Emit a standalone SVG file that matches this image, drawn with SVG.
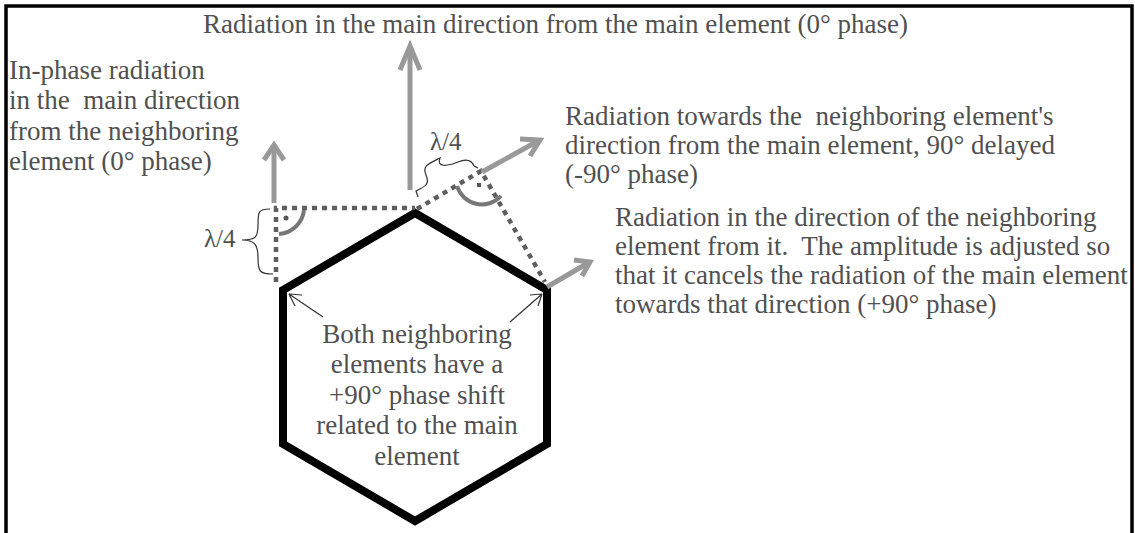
<svg xmlns="http://www.w3.org/2000/svg" width="1135" height="533" viewBox="0 0 1135 533">
<style>
text{font-family:"Liberation Serif","Times New Roman",serif;font-size:27px;fill:#505050;white-space:pre}
.lam{font-size:25px}
.arr{stroke:#999;stroke-width:5;fill:none;stroke-linecap:butt}
.dot{stroke:#5e5e5e;stroke-width:4.5;stroke-dasharray:5 5;fill:none}
.ang{stroke:#777;stroke-width:4;fill:none}
.thin{stroke:#333;stroke-width:1.2;fill:none}
</style>
<rect x="0" y="0" width="1135" height="533" fill="#fff"/>
<path d="M6,540 V6 H1132 V540" fill="none" stroke="#000" stroke-width="3.5"/>
<g id="hexagon">
<polygon points="415,213 547,290 547,444 415,521 283,444 283,290" fill="none" stroke="#000" stroke-width="8" stroke-linejoin="miter"/>
</g>
<g id="connectors">
<path class="dot" d="M276,282 V208 H415"/>
<path class="dot" d="M417,209 L481,171 L545,282"/>
<path class="ang" d="M304,210 A27,27 0 0 1 279,234"/>
<circle cx="286" cy="218" r="2.5" fill="#555"/>
<path class="ang" d="M457,186 A26,26 0 0 0 501,196"/>
<rect x="477" y="183" width="4" height="4" fill="#555"/>
<path class="arr" d="M410,190 V46"/>
<path class="arr" d="M400,70 L410,46 L420,70" stroke-width="6"/>
<path class="arr" d="M274,203 V145"/>
<path class="arr" d="M264,160 L274,145 L284,160" stroke-width="3"/>
<path class="arr" d="M482,172 L538,141"/>
<path class="arr" d="M520,139 L540,140 L530,156" stroke-width="6"/>
<path class="arr" d="M547,287 L588,263"/>
<path class="arr" d="M574,260 L590,262 L582,276" stroke-width="6"/>
<path class="thin" d="M270,209 C258,209 258,212 258,225 C258,238 255,240 242,240 C255,240 258,245 258,258 C258,272 260,274 273,274"/>
<path class="thin" d="M418,197 L416,191 C426,186 430,184 426,175 C422,166 428,164 440,158 C436,168 448,166 458,162 C468,158 472,161 474,166 L478,168"/>
<path class="thin" d="M323,317 L289,294 M289,294 L302,295 M289,294 L295,306"/>
<path class="thin" d="M510,322 L542,294 M542,294 L530,295 M542,294 L538,306"/>
</g>
<g id="labels" xml:space="preserve">
<text x="203" y="33">Radiation in the main direction from the main element (0° phase)</text>
<text x="9" y="79">In-phase radiation</text>
<text x="9" y="109">in the  main direction</text>
<text x="9" y="140">from the neighboring</text>
<text x="9" y="170">element (0° phase)</text>
<text x="565" y="125">Radiation towards the  neighboring element's</text>
<text x="565" y="154">direction from the main element, 90° delayed</text>
<text x="565" y="183">(-90° phase)</text>
<text x="615" y="226">Radiation in the direction of the neighboring</text>
<text x="615" y="255">element from it.  The amplitude is adjusted so</text>
<text x="615" y="284">that it cancels the radiation of the main element</text>
<text x="615" y="313">towards that direction (+90° phase)</text>
<text x="417" y="343" text-anchor="middle">Both neighboring</text>
<text x="417" y="373" text-anchor="middle">elements have a</text>
<text x="417" y="404" text-anchor="middle">+90° phase shift</text>
<text x="417" y="434" text-anchor="middle">related to the main</text>
<text x="417" y="465" text-anchor="middle">element</text>
<text class="lam" x="204" y="247">λ/4</text>
<text class="lam" x="430" y="150">λ/4</text>
</g>
</svg>
